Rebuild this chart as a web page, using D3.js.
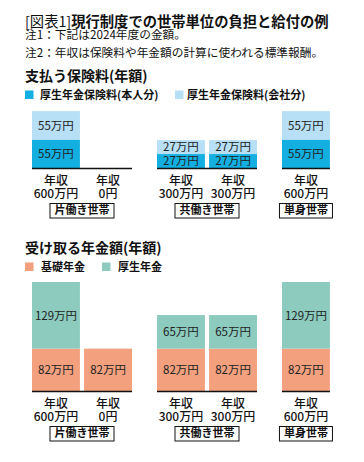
<!DOCTYPE html>
<html><head><meta charset="utf-8">
<script src="https://cdn.jsdelivr.net/npm/d3@7/dist/d3.min.js"></script>
<style>
body{margin:0;background:#fff;}
svg{display:block;font-family:"Noto Sans CJK JP","Noto Sans",sans-serif;}
</style></head>
<body>
<script>
// ---- data ----
const groups = ["片働き世帯", "共働き世帯", "単身世帯"];
const members = [
  {group: "片働き世帯", slot: 0, income: "600万円"},
  {group: "片働き世帯", slot: 1, income: "0円"},
  {group: "共働き世帯", slot: 0, income: "300万円"},
  {group: "共働き世帯", slot: 1, income: "300万円"},
  {group: "単身世帯", slot: 0, income: "600万円"}
];
const premiumSeries = ["厚生年金保険料(本人分)", "厚生年金保険料(会社分)"];
const premiumSelf = [55, 0, 27, 27, 55];
const premiumEmployer = [55, 0, 27, 27, 55];
const pensionSeries = ["基礎年金", "厚生年金"];
const pensionBasic = [82, 82, 82, 82, 82];
const pensionEmployee = [129, 0, 65, 65, 129];

const W = 364, H = 462;
const svg = d3.select("body").append("svg").attr("width", W).attr("height", H);

// title
const t = svg.append("text").attr("x", 25).attr("y", 26.5).attr("font-size", 14.3).attr("fill", "#111");
t.append("tspan").attr("font-weight", 400).text("[図表1]");
t.append("tspan").attr("font-weight", 700).text("現行制度での世帯単位の負担と給付の例");
svg.append("text").attr("x", 25).attr("y", 38.5).attr("font-size", 11.7).attr("fill", "#111").text("注1：下記は2024年度の金額。");
svg.append("text").attr("x", 25).attr("y", 56.5).attr("font-size", 11.7).attr("fill", "#111").text("注2：年収は保険料や年金額の計算に使われる標準報酬。");

const xg = d3.scaleBand().domain(groups).range([32, 382]).paddingInner(0.2);
const xs = d3.scaleBand().domain([0, 1]).range([0, xg.bandwidth()]).paddingInner(0.08);
const barX = m => xg(m.group) + xs(m.slot);
const bw = xs.bandwidth();
const hScale = d3.scaleLinear().domain([0, 211]).range([0, 109]);

function section(opts) {
  const g = svg.append("g");
  g.append("text").attr("x", 25).attr("y", opts.titleY).attr("font-size", 14).attr("font-weight", 700)
    .attr("fill", "#111").text(opts.title);
  // legend
  opts.series.forEach((s, i) => {
    const lx = opts.legendX[i];
    g.append("rect").attr("x", lx).attr("y", opts.legendY - 8.5).attr("width", 8.5).attr("height", 8.5).attr("fill", opts.colors[i]);
    g.append("text").attr("x", opts.legendTX[i]).attr("y", opts.legendY).attr("font-size", 11).attr("font-weight", 700)
      .attr("fill", "#111").text(s);
  });
  const base = opts.baseline;
  const y = v => base - hScale(v);
  members.forEach((m, i) => {
    let acc = 0;
    opts.values.forEach((arr, k) => {
      const v = arr[i];
      if (v <= 0) return;
      const y0 = y(acc), y1 = y(acc + v);
      g.append("rect").attr("x", barX(m)).attr("y", y1).attr("width", bw).attr("height", y0 - y1)
        .attr("fill", opts.colors[k]);
      g.append("text").attr("x", barX(m) + bw / 2).attr("y", (y0 + y1) / 2 + 4.2)
        .attr("text-anchor", "middle").attr("font-size", 11.5).attr("fill", "#222").text(v + "万円");
      acc += v;
    });
    g.append("text").attr("x", barX(m) + bw / 2).attr("y", base + 16.5).attr("text-anchor", "middle")
      .attr("font-size", 12).attr("font-weight", 500).attr("fill", "#111").text("年収");
    g.append("text").attr("x", barX(m) + bw / 2).attr("y", base + 30).attr("text-anchor", "middle")
      .attr("font-size", 12).attr("font-weight", 500).attr("fill", "#111").text(m.income);
  });
  groups.forEach(gr => {
    const ms = members.filter(m => m.group === gr);
    const x0 = d3.min(ms, barX), x1 = d3.max(ms, m => barX(m) + bw);
    g.append("line").attr("x1", x0).attr("x2", x1).attr("y1", base + 0.5).attr("y2", base + 0.5)
      .attr("stroke", "#111").attr("stroke-width", 1.3);
    const cx = (x0 + x1) / 2;
    const lbl = g.append("text").attr("x", cx).attr("y", base + 46).attr("text-anchor", "middle")
      .attr("font-size", 11).attr("font-weight", 700).attr("fill", "#111").text(gr);
    const bb = lbl.node().getBBox();
    g.insert("rect", () => lbl.node()).attr("x", cx - bb.width / 2 - 4.5).attr("y", base + 35.5)
      .attr("width", bb.width + 9).attr("height", 14.5).attr("fill", "#fff").attr("stroke", "#111").attr("stroke-width", 1);
  });
}

section({title: "支払う保険料(年額)", titleY: 81, series: premiumSeries, legendY: 99, legendX: [25, 175], legendTX: [40, 187],
  colors: ["#13afe1", "#b7dff5"], values: [premiumSelf, premiumEmployer], baseline: 168});
section({title: "受け取る年金額(年額)", titleY: 253, series: pensionSeries, legendY: 271, legendX: [25, 102], legendTX: [41, 118],
  colors: ["#f2a07e", "#8ccbbe"], values: [pensionBasic, pensionEmployee], baseline: 391});
</script>
</body></html>
